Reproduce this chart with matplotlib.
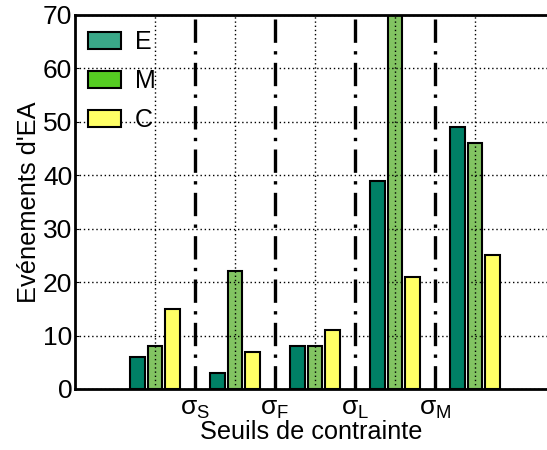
import matplotlib
matplotlib.use("Agg")
import matplotlib.pyplot as plt
from matplotlib.patches import Patch
import numpy as np

plt.rcParams['font.family'] = ['Liberation Sans', 'DejaVu Sans']
plt.rcParams['mathtext.default'] = 'regular'

groups = [1, 2, 3, 4, 5]
E = [6, 3, 8, 39, 49]
M = [8, 22, 8, 72, 46]
C = [15, 7, 11, 21, 25]
series_labels = ['E', 'M', 'C']
thresholds = [1.5, 2.5, 3.5, 4.5]
threshold_labels = ['σ$_{S}$', 'σ$_{F}$', 'σ$_{L}$', 'σ$_{M}$']
yticks = [0, 10, 20, 30, 40, 50, 60, 70]

fig = plt.figure(figsize=(5.47, 4.50), dpi=100)
ax = fig.add_axes([75/547, 1-389/450, 1-75/547, (389-15)/450])

x = np.array(groups, dtype=float)
w = 0.18
off = 0.22
ax.bar(x - off, E, w, color='#008066', edgecolor='black', linewidth=1.5, zorder=3)
ax.bar(x, M, w, color='#82c462', edgecolor='black', linewidth=1.5, zorder=1)
ax.bar(x + off, C, w, color='#ffff66', edgecolor='black', linewidth=1.5, zorder=3)

for t in thresholds:
    ax.axvline(t, color='black', linewidth=2.4, linestyle=(0, (7, 2.5, 1, 2.5)), zorder=4)

ax.set_xlim(0, 5.9)
ax.set_ylim(0, 70)
ax.set_yticks(yticks)
ax.set_xticks(groups)
ax.set_xticklabels([])
ax.set_xticks(thresholds, minor=True)
ax.set_xticklabels(threshold_labels, minor=True)
ax.tick_params(axis='x', which='both', length=0, labelsize=19, pad=6)
ax.tick_params(axis='y', length=3, direction='in', labelsize=19, pad=2)
ax.grid(True, which='major', color='black', linestyle=(0, (1, 2)), linewidth=1.0, zorder=2)
ax.set_axisbelow(False)
for gl in ax.get_xgridlines() + ax.get_ygridlines():
    gl.set_zorder(2)

ax.spines['right'].set_visible(False)
for s in ['left', 'top', 'bottom']:
    ax.spines[s].set_linewidth(2.0)

ax.set_ylabel("Evénements d'EA", fontsize=18.3, labelpad=1)
ax.set_xlabel("Seuils de contrainte", fontsize=18.2, labelpad=-1)

handles = [Patch(facecolor='#3aa888', edgecolor='black', linewidth=1.5),
           Patch(facecolor='#55cc22', edgecolor='black', linewidth=1.5),
           Patch(facecolor='#ffff66', edgecolor='black', linewidth=1.5)]
leg = ax.legend(handles, series_labels, loc='upper left', bbox_to_anchor=(-0.005, 1.0),
                frameon=False, fontsize=18, handlelength=1.35, handleheight=0.7,
                labelspacing=0.6, handletextpad=0.55, borderaxespad=0.2)
leg.set_zorder(5)

fig.savefig('out.png', dpi=100)
